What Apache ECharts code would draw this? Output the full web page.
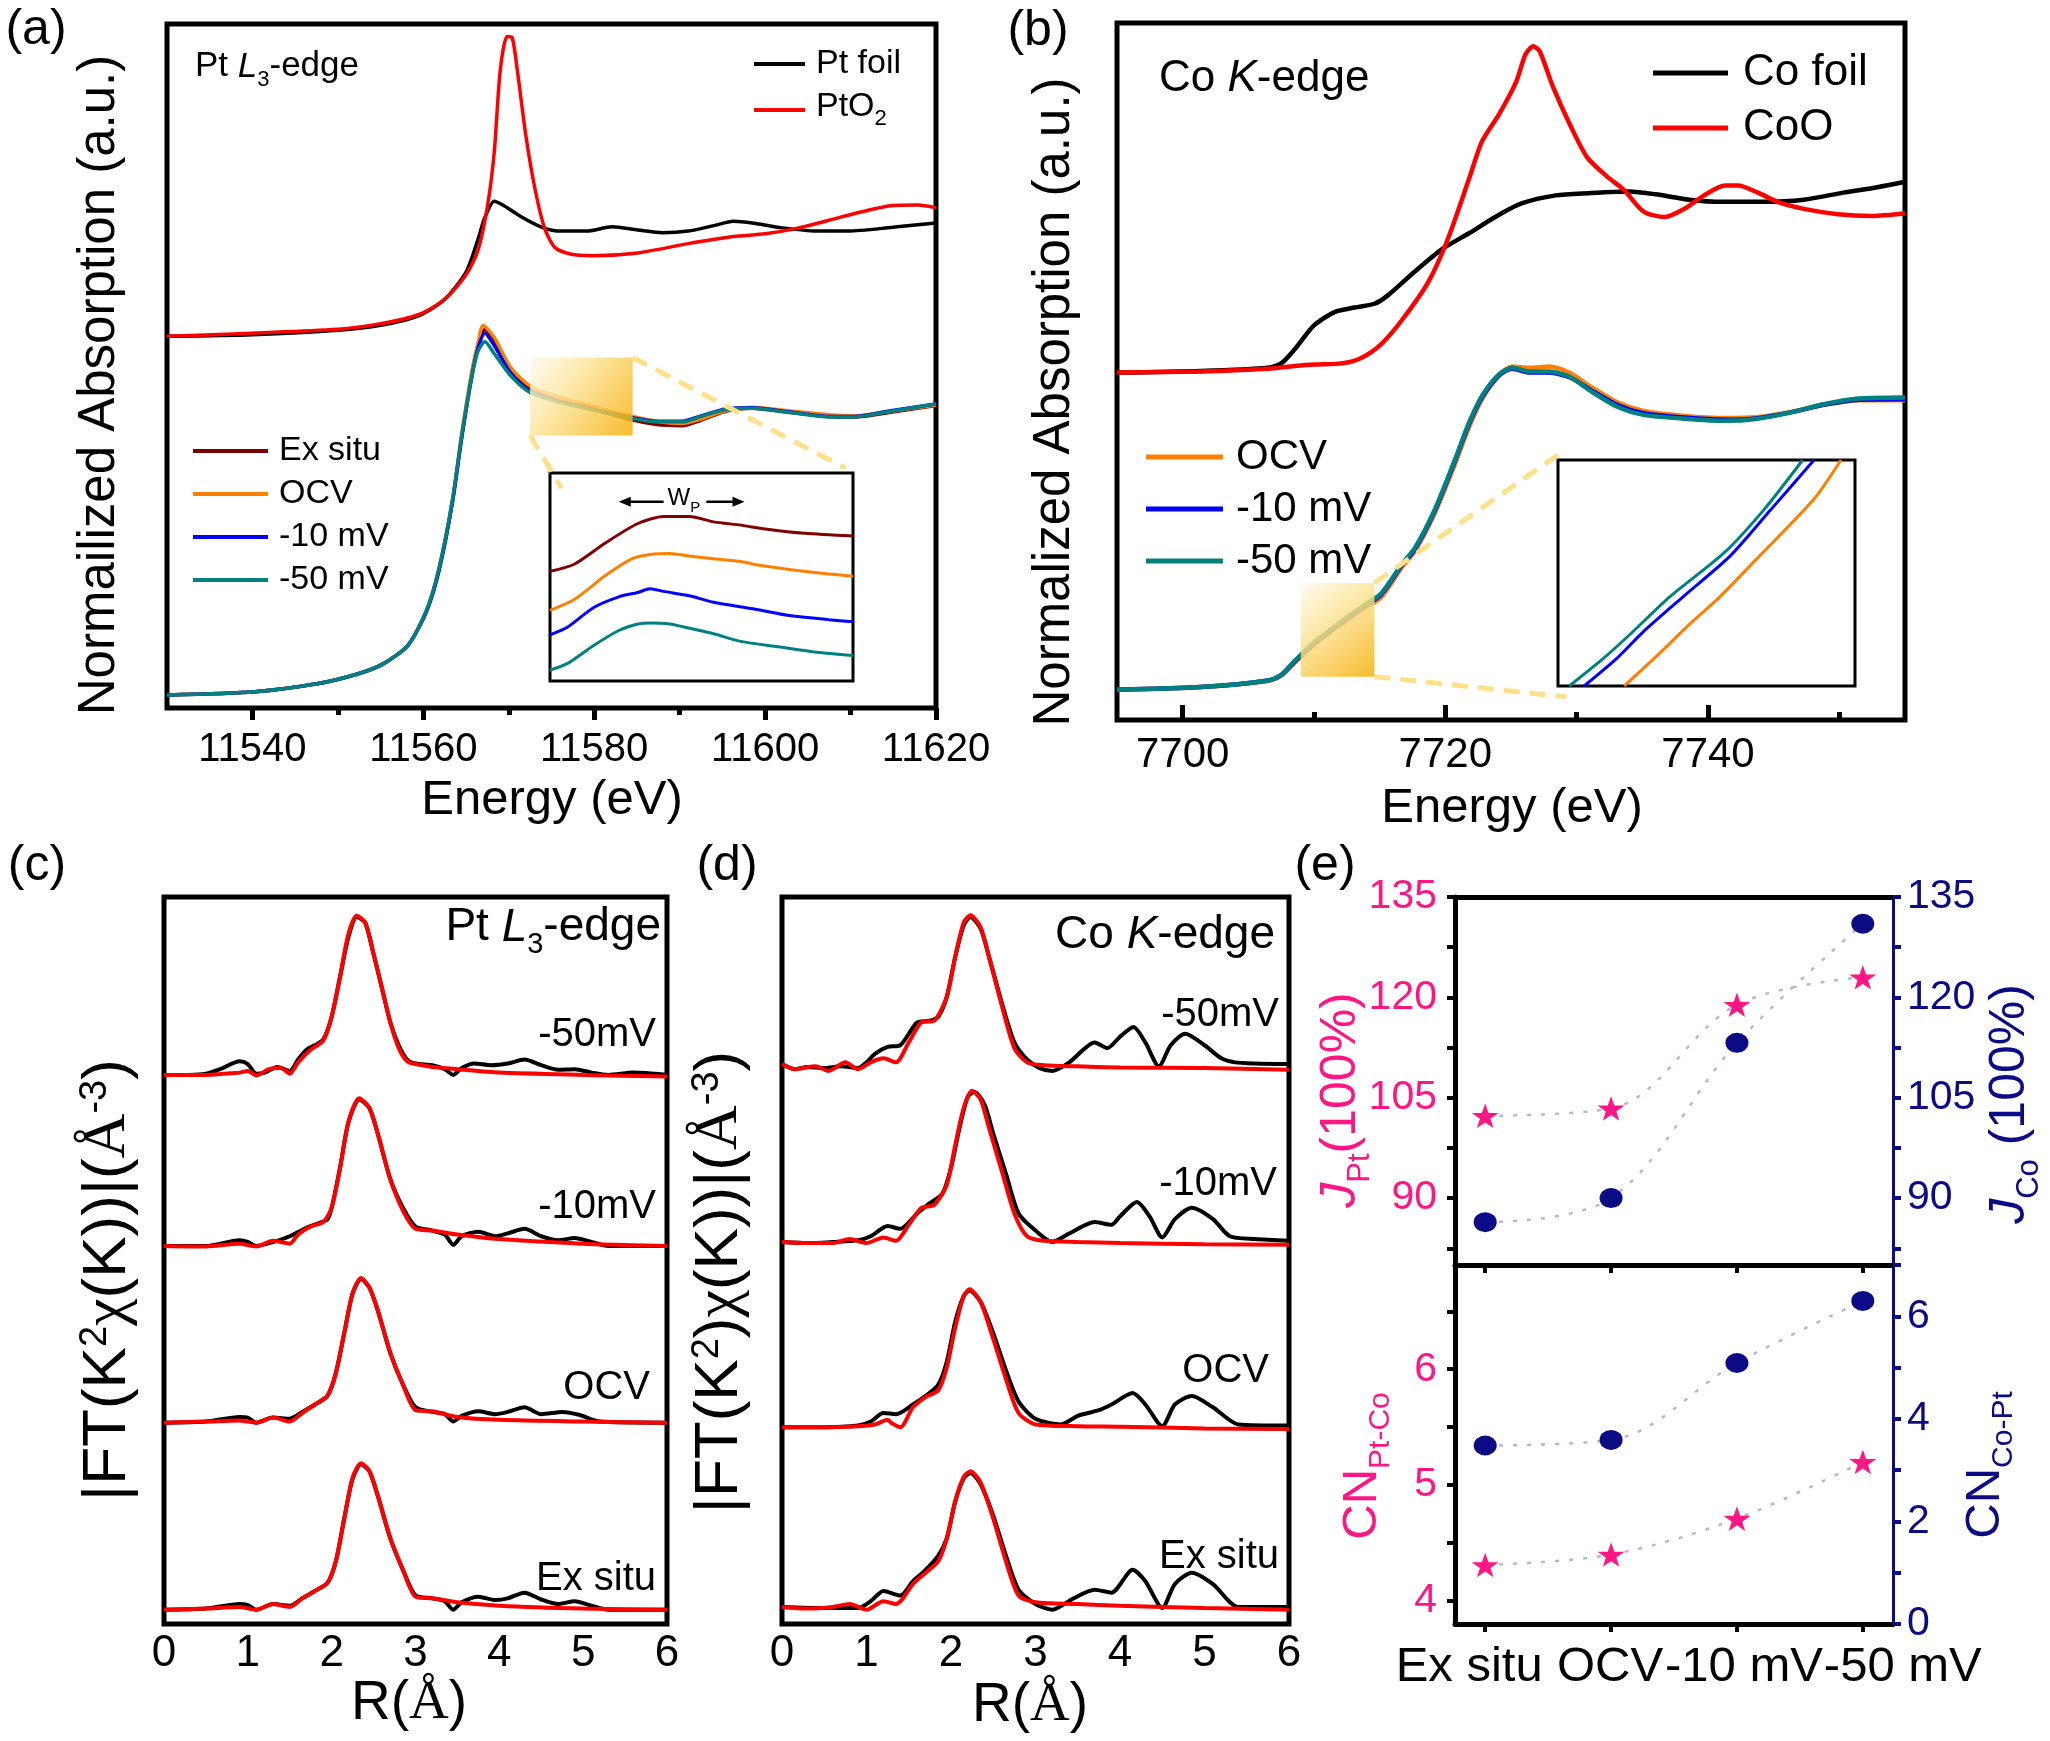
<!DOCTYPE html>
<html>
<head>
<meta charset="utf-8">
<script src="https://cdn.jsdelivr.net/npm/echarts@6/dist/echarts.min.js"></script>
<style>html,body{margin:0;padding:0;background:#fff}#main{width:2050px;height:1741px}</style>
</head>
<body>
<div id="main"></div>
<script>
// ---- (a) Pt L3-edge XANES ----
const aTickLabels = [11540, 11560, 11580, 11600, 11620];
const aMinorTicks = [11550, 11570, 11590, 11610];
const aPtFoil = [[11530,682],[11540,685],[11550,693],[11555,702],[11559.5,720],[11562.5,750],[11565,800],[11566.4,860],[11567.2,900],[11568.3,930],[11569.4,922],[11571.6,900],[11573.9,882],[11576.1,875],[11579.1,875],[11582.1,883],[11585.1,877],[11588,872],[11591,875],[11594,885],[11596.3,893],[11598.5,890],[11601.5,882],[11606,875],[11609.7,875],[11614.9,882],[11620,890]];
const aPtO2 = [[11530,682],[11550,695],[11555,705],[11559.5,722],[11562.5,750],[11565,795],[11566.4,840],[11567.5,920],[11568.3,1020],[11569,1170],[11569.8,1232],[11570.4,1230],[11571,1170],[11572,1050],[11573.1,950],[11574.2,880],[11575.4,845],[11577.2,833],[11579.8,830],[11585.1,835],[11591,852],[11596.3,865],[11600,870],[11603.7,880],[11607.5,895],[11611.2,910],[11614.9,922],[11617.9,923],[11620,918]];
const aExSitu = [[11530,24],[11540.3,30],[11547.7,45],[11552.2,62],[11555.2,80],[11558.2,115],[11560.4,180],[11561.9,260],[11563.4,380],[11564.5,500],[11565.7,615],[11566.4,665],[11567.2,695],[11568.3,672],[11570.2,620],[11572.4,588],[11575.4,568],[11579.1,552],[11583.6,532],[11587.3,520],[11590.3,518],[11592.5,528],[11595.5,545],[11598.5,550],[11603,542],[11607.5,535],[11610.4,534],[11614.9,543],[11620,555]];
const aOcv = [[11530,24],[11540.3,30],[11547.7,45],[11552.2,62],[11555.2,80],[11558.2,115],[11560.4,180],[11561.9,260],[11563.4,380],[11564.5,505],[11565.7,620],[11566.4,670],[11567,702],[11568.3,680],[11570.2,625],[11572.4,592],[11575.4,572],[11579.1,556],[11583.6,538],[11587.3,526],[11590.3,522],[11592.5,530],[11595.5,546],[11598.5,552],[11603,545],[11607.5,538],[11610.4,536],[11614.9,545],[11620,556]];
const aM10 = [[11530,24],[11540.3,30],[11547.7,45],[11552.2,62],[11555.2,80],[11558.2,115],[11560.4,178],[11561.9,256],[11563.4,376],[11564.5,496],[11565.7,610],[11566.4,660],[11567.2,688],[11568.3,665],[11570.2,615],[11572.4,582],[11575.4,565],[11579.1,551],[11583.6,535],[11587.3,526],[11590.3,526],[11592.5,536],[11595.5,549],[11598.5,551],[11603,543],[11607.5,535],[11610.4,535],[11614.9,546],[11620,558]];
const aM50 = [[11530,24],[11540.3,30],[11547.7,45],[11552.2,62],[11555.2,80],[11558.2,115],[11560.4,180],[11561.9,260],[11563.4,380],[11564.5,500],[11565.7,610],[11566.4,655],[11567.2,672],[11568.3,650],[11570.2,610],[11572.4,580],[11575.4,563],[11579.1,550],[11583.6,534],[11587.3,525],[11590.3,525],[11592.5,535],[11595.5,548],[11598.5,550],[11603,542],[11607.5,534],[11610.4,534],[11614.9,545],[11620,558]];
// inset of (a), offset curves
const aInsetEx = [[0,202],[8,215],[18.5,255],[29,290],[37.5,303],[46,303],[54,293],[63,287],[71,280],[84,272],[100,267]];
const aInsetOcv = [[0,130],[8,150],[18.5,195],[27,225],[33,233],[39.6,235],[46,230],[54,225],[63,220],[69,213],[79.6,205],[92,197],[100,193]];
const aInsetM10 = [[0,85],[6,100],[14.3,135],[22.7,155],[29,163],[33,170],[37.5,165],[46,157],[54,145],[67,133],[79.6,120],[92,113],[100,109]];
const aInsetM50 = [[0,20],[6,33],[14.3,65],[22.7,93],[29,105],[33,107],[39.6,105],[46,97],[54,87],[63,73],[75.4,63],[88,53],[100,47]];

// ---- (b) Co K-edge XANES ----
const bTickLabels = [7700, 7720, 7740];
const bMinorTicks = [7710, 7730, 7750];
const bCoFoil = [[7695,641],[7701.4,644],[7706.5,650],[7707.5,658],[7708.5,683],[7710,728],[7711.6,753],[7713.1,761],[7714.6,768],[7715.6,783],[7717.7,828],[7719.7,868],[7721.8,898],[7723.8,928],[7725.8,953],[7728.4,968],[7730.9,972],[7734,975],[7736,970],[7738.6,960],[7741.1,956],[7744.2,956],[7747.3,960],[7750.3,973],[7752.9,983],[7755,993]];
const bCoO = [[7695,641],[7701.4,643],[7706.5,648],[7708.5,653],[7710,656],[7712.1,658],[7713.6,668],[7715.1,693],[7716.7,738],[7718.7,808],[7720.2,888],[7721.8,998],[7722.8,1068],[7724.1,1118],[7725.4,1178],[7726.1,1228],[7726.7,1243],[7727.2,1233],[7728.2,1168],[7729.5,1098],[7730.8,1038],[7732.3,1003],[7733.6,978],[7735.1,938],[7736.7,928],[7738.2,943],[7739.7,968],[7741.3,986],[7742.3,986],[7743.8,973],[7745.3,956],[7747.3,943],[7749.9,933],[7752.5,930],[7755,935]];
const bOcv = [[7695,56],[7701.4,61],[7706.5,72],[7707.5,82],[7708.5,105],[7710,139],[7711.6,168],[7713.6,203],[7715.1,226],[7716.7,282],[7717.7,312],[7719.2,382],[7720.7,470],[7721.8,540],[7722.8,592],[7724.1,636],[7725.1,652],[7726.4,650],[7727.9,652],[7729.5,640],[7731,616],[7733.1,586],[7735.1,570],[7738.2,561],[7741.3,557],[7743.8,559],[7746.4,569],[7748.9,582],[7751.5,590],[7755,590]];
const bM10 = [[7695,56],[7701.4,61],[7706.5,73],[7707.5,83],[7708.5,107],[7710,141],[7711.6,171],[7713.6,206],[7715.1,231],[7716.7,286],[7717.7,316],[7719.2,386],[7720.7,476],[7721.8,546],[7722.8,596],[7724.1,636],[7725.1,648],[7726.4,641],[7727.9,641],[7729.5,632],[7731,610],[7733.1,581],[7735.1,566],[7738.2,558],[7741.3,554],[7743.8,557],[7746.4,568],[7748.9,582],[7751.5,591],[7755,592]];
const bM50 = [[7695,56],[7701.4,61],[7706.5,73],[7707.5,83],[7708.5,108],[7710,143],[7711.6,173],[7713.6,208],[7715.1,233],[7716.7,288],[7717.7,318],[7719.2,388],[7720.7,478],[7721.8,548],[7722.8,598],[7724.1,638],[7725.1,650],[7726.4,643],[7727.9,643],[7729.5,633],[7731,608],[7733.1,578],[7735.1,563],[7738.2,556],[7741.3,552],[7743.8,556],[7746.4,568],[7748.9,583],[7751.5,593],[7755,595]];
const bInsetOcv = [[22.3,0],[33.2,55],[44.5,115],[54.6,165],[67,235],[86.2,345],[95.3,417]];
const bInsetM10 = [[8.8,0],[19.6,50],[28.7,100],[42.2,165],[58,240],[71.6,325],[86.2,417]];
const bInsetM50 = [[3.8,0],[15.1,50],[24.2,95],[37.7,165],[55.8,245],[69.3,325],[82.4,417]];

// ---- (c) Pt L3-edge FT-EXAFS (data black, fit red) ----
const rTicks = [0, 1, 2, 3, 4, 5, 6];
const cM50Exp = [[0,963],[0.3,963],[0.5,965],[0.7,975],[0.9,987],[1,982],[1.1,965],[1.2,967],[1.35,977],[1.5,970],[1.6,990],[1.7,1007],[1.8,1015],[1.9,1025],[2,1065],[2.1,1135],[2.2,1205],[2.3,1240],[2.4,1230],[2.5,1175],[2.6,1115],[2.7,1055],[2.8,1015],[2.9,990],[3,983],[3.2,980],[3.35,973],[3.45,963],[3.55,975],[3.7,983],[3.9,980],[4.1,983],[4.3,990],[4.5,980],[4.7,972],[4.9,973],[5.1,967],[5.3,963],[5.6,967],[6,963]];
const cM50Fit = [[0,963],[0.5,963],[0.7,965],[0.9,967],[1,970],[1.1,962],[1.25,973],[1.4,975],[1.5,965],[1.6,985],[1.75,1007],[1.9,1023],[2,1065],[2.1,1135],[2.2,1210],[2.3,1242],[2.4,1230],[2.5,1175],[2.6,1115],[2.7,1055],[2.8,1010],[2.9,987],[3,982],[3.2,977],[3.5,973],[4,967],[5,963],[6,960]];
const cM10Exp = [[0,663],[0.5,663],[0.9,673],[1,670],[1.1,663],[1.3,670],[1.5,680],[1.7,695],[1.85,703],[1.95,710],[2,730],[2.1,800],[2.2,880],[2.33,920],[2.45,905],[2.55,860],[2.7,780],[2.85,730],[3,697],[3.2,690],[3.35,683],[3.45,665],[3.55,680],[3.75,688],[3.95,680],[4.1,685],[4.3,693],[4.5,680],[4.7,673],[4.9,677],[5.1,670],[5.3,663],[6,663]];
const cM10Fit = [[0,663],[0.5,662],[0.9,667],[1.1,662],[1.3,672],[1.5,667],[1.6,683],[1.75,697],[1.9,705],[2,730],[2.1,800],[2.2,880],[2.33,922],[2.45,905],[2.55,860],[2.7,780],[2.85,725],[3,693],[3.2,690],[3.5,683],[4,675],[5,667],[6,663]];
const cOcvExp = [[0,353],[0.5,355],[0.9,363],[1,362],[1.1,353],[1.3,362],[1.5,360],[1.65,372],[1.8,385],[1.95,400],[2.05,440],[2.15,510],[2.25,580],[2.35,605],[2.45,590],[2.55,550],[2.7,475],[2.85,420],[3,380],[3.2,372],[3.35,368],[3.45,355],[3.55,365],[3.75,373],[3.95,368],[4.1,372],[4.3,380],[4.5,368],[4.75,372],[4.95,367],[5.2,355],[6,353]];
const cOcvFit = [[0,353],[0.5,355],[0.9,357],[1.1,353],[1.3,362],[1.5,355],[1.65,370],[1.8,385],[1.95,400],[2.05,440],[2.15,510],[2.25,580],[2.35,607],[2.45,590],[2.55,550],[2.7,475],[2.85,420],[3,375],[3.2,373],[3.5,363],[4,358],[5,355],[6,353]];
const cExExp = [[0,25],[0.5,27],[0.9,35],[1,33],[1.1,25],[1.3,35],[1.5,32],[1.65,45],[1.8,58],[1.95,72],[2.05,110],[2.15,185],[2.25,255],[2.35,280],[2.45,268],[2.55,225],[2.7,150],[2.85,95],[3,50],[3.2,45],[3.35,40],[3.45,25],[3.55,38],[3.75,48],[3.95,42],[4.1,45],[4.3,55],[4.5,43],[4.7,35],[4.9,40],[5.1,32],[5.3,25],[6,25]];
const cExFit = [[0,25],[0.5,27],[0.9,30],[1.1,25],[1.3,35],[1.5,30],[1.65,45],[1.8,58],[1.95,72],[2.05,110],[2.15,185],[2.25,257],[2.35,282],[2.45,268],[2.55,225],[2.7,150],[2.85,95],[3,48],[3.2,45],[3.5,38],[4,32],[5,27],[6,25]];

// ---- (d) Co K-edge FT-EXAFS ----
const dM50Exp = [[0,982],[0.15,973],[0.3,977],[0.5,975],[0.7,978],[0.9,975],[1,985],[1.1,1000],[1.25,1012],[1.4,1015],[1.5,1035],[1.6,1055],[1.75,1058],[1.85,1065],[1.95,1100],[2.05,1170],[2.15,1225],[2.23,1240],[2.35,1220],[2.45,1170],[2.6,1090],[2.75,1020],[2.9,990],[3.05,975],[3.2,970],[3.4,985],[3.7,1020],[3.85,1010],[4,1030],[4.16,1047],[4.3,1020],[4.46,978],[4.6,1015],[4.77,1035],[5,1015],[5.2,992],[5.36,985],[5.6,983],[6,982]];
const dM50Fit = [[0,982],[0.15,973],[0.4,978],[0.55,970],[0.75,985],[0.9,973],[1.05,985],[1.2,992],[1.35,985],[1.5,1020],[1.65,1055],[1.8,1058],[1.95,1100],[2.05,1170],[2.15,1230],[2.23,1243],[2.35,1222],[2.45,1170],[2.6,1085],[2.75,1010],[2.9,985],[3.1,980],[3.5,978],[4,976],[5,975],[6,972]];
const dM10Exp = [[0,670],[0.3,668],[0.6,670],[0.9,673],[1.05,680],[1.25,698],[1.4,693],[1.6,720],[1.75,738],[1.9,755],[2,800],[2.1,870],[2.2,925],[2.28,933],[2.4,910],[2.5,860],[2.65,790],[2.8,720],[3,690],[3.2,670],[3.4,685],[3.7,705],[3.9,700],[4,715],[4.2,740],[4.35,715],[4.5,678],[4.65,710],[4.85,730],[5.1,710],[5.3,680],[5.6,675],[6,672]];
const dM10Fit = [[0,670],[0.3,668],[0.6,668],[0.8,675],[1,668],[1.2,678],[1.35,672],[1.5,700],[1.65,730],[1.8,735],[1.95,770],[2.05,840],[2.15,905],[2.25,935],[2.35,920],[2.45,870],[2.6,795],[2.75,720],[2.9,680],[3.1,672],[3.5,670],[4,668],[5,666],[6,665]];
const dOcvExp = [[0,345],[0.5,345],[0.9,348],[1.05,355],[1.2,370],[1.35,368],[1.55,385],[1.7,400],[1.85,420],[1.95,460],[2.05,530],[2.15,575],[2.22,585],[2.35,565],[2.5,510],[2.65,445],[2.8,390],[3,360],[3.3,350],[3.5,365],[3.75,375],[3.9,385],[4.15,405],[4.3,385],[4.5,347],[4.65,385],[4.85,400],[5.1,380],[5.4,350],[6,348]];
const dOcvFit = [[0,345],[0.5,345],[0.9,347],[1.1,350],[1.25,358],[1.3,352],[1.4,345],[1.55,380],[1.7,398],[1.85,410],[1.95,450],[2.05,520],[2.15,575],[2.22,587],[2.35,565],[2.5,500],[2.65,430],[2.8,370],[3,350],[3.5,347],[4,346],[5,343],[6,342]];
const dExExp = [[0,30],[0.5,28],[0.9,28],[1.05,40],[1.2,58],[1.4,50],[1.55,75],[1.7,95],[1.85,120],[1.95,150],[2.05,215],[2.15,255],[2.23,265],[2.35,245],[2.5,190],[2.65,120],[2.8,60],[3,35],[3.2,25],[3.45,45],[3.7,60],[3.9,55],[4.15,95],[4.3,75],[4.5,28],[4.65,70],[4.85,90],[5.1,70],[5.4,30],[6,30]];
const dExFit = [[0,30],[0.3,27],[0.6,30],[0.8,35],[1,25],[1.2,40],[1.35,35],[1.55,70],[1.7,90],[1.85,110],[1.95,150],[2.05,215],[2.15,258],[2.23,268],[2.35,248],[2.5,185],[2.65,110],[2.8,50],[3,38],[3.5,35],[4,32],[5,28],[6,25]];

// ---- (e) structural parameters ----
const eCats = ['Ex situ', 'OCV', '-10 mV', '-50 mV'];
const eX = [1, 2, 3, 4];
const jPt = [102.3, 103.4, 118.9, 123.0];
const jCo = [86.4, 90.0, 113.2, 131.0];
const cnPtCo = [4.31, 4.40, 4.71, 5.20];
const cnCoPt = [3.48, 3.59, 5.09, 6.30];
const eJTicks = [82.5, 90, 97.5, 105, 112.5, 120, 127.5, 135];
const eJLabels = [90, 105, 120, 135];
const eCnPtTicks = [4, 4.5, 5, 5.5, 6, 6.5];
const eCnPtLabels = [4, 5, 6];
const eCnCoTicks = [0, 1, 2, 3, 4, 5, 6, 7];
const eCnCoLabels = [0, 2, 4, 6];

// zoom windows marked in (a) and (b)
const aZoomWin = {x: [11572.5, 11584.5], y: [500, 643]};
const bZoomWin = {x: [7709.0, 7714.6], y: [80, 253]};

const FONT = '"Liberation Sans", Arial, sans-serif';
const SERIF = '"Liberation Serif", "Times New Roman", serif';
const PINK = '#ff1685';
const NAVY = '#0b0b86';
const COL = {ex: '#800000', ocv: '#ff8000', m10: '#0000ff', m50: '#008080'};

const chart = echarts.init(document.getElementById('main'), null, {renderer: 'canvas'});

function ln(name, data, color, xi, yi, w) {
    return {type: 'line', name: name, data: data, xAxisIndex: xi, yAxisIndex: yi,
        symbol: 'none', smooth: 0.25, lineStyle: {color: color, width: w},
        itemStyle: {color: color}, emphasis: {disabled: true}};
}
function hid(gi, min, max) {
    return {gridIndex: gi, type: 'value', min: min, max: max, show: false};
}
function tickAxis(gi, min, max, ticks, len, inside, labels, fs, margin) {
    return {gridIndex: gi, type: 'value', position: 'bottom', min: min, max: max,
        axisLine: {show: false}, splitLine: {show: false},
        axisTick: {show: true, inside: inside, length: len, customValues: ticks, lineStyle: {color: '#000', width: 5}},
        axisLabel: labels ? {customValues: labels, formatter: v => String(v), fontSize: fs, margin: margin,
            color: '#000', fontFamily: FONT, hideOverlap: false} : {show: false}};
}

const starPath = 'path://M50,0 L61.8,35.1 L98.1,35.1 L68.8,56.8 L79.4,91 L50,70 L20.6,91 L31.2,56.8 L1.9,35.1 L38.2,35.1 Z';

const gridBase = {outerBoundsMode: 'none', containLabel: false};
const grids = [
    {left: 167, top: 24, width: 769, height: 684, show: true, borderColor: '#000', borderWidth: 5},
    {left: 550, top: 473, width: 303, height: 208, show: true, borderColor: '#000', borderWidth: 3, backgroundColor: '#fff'},
    {left: 1117, top: 23, width: 788, height: 697, show: true, borderColor: '#000', borderWidth: 5},
    {left: 1558, top: 460, width: 297, height: 226, show: true, borderColor: '#000', borderWidth: 3, backgroundColor: '#fff'},
    {left: 164, top: 897, width: 503, height: 727, show: true, borderColor: '#000', borderWidth: 5},
    {left: 782, top: 897, width: 507, height: 727, show: true, borderColor: '#000', borderWidth: 5},
    {left: 1455, top: 897, width: 438, height: 368},
    {left: 1455, top: 1265, width: 438, height: 359}
].map(gr => Object.assign({}, gridBase, gr));

function rAxis(gi) {
    return {gridIndex: gi, type: 'value', position: 'bottom', min: 0, max: 6, axisLine: {show: false},
        axisTick: {show: false}, splitLine: {show: false},
        axisLabel: {customValues: rTicks, fontSize: 44, margin: 8, color: '#000', fontFamily: FONT, hideOverlap: false}};
}
// category names of (e): split over two axes so that touching labels are all kept;
// the original figure sets them slightly off their ticks, which the paddings reproduce
const eCatRich = {};
[[0, 32], [0, 2], [14, 0], [80, 0]].forEach((p, i) => {
    eCatRich['c' + i] = {fontSize: 49, fontFamily: FONT, color: '#000', padding: [0, p[1], 0, p[0]]};
});
function eCatAxis(vals, line) {
    return {gridIndex: 7, type: 'value', position: 'bottom', min: 0.76, max: 4.24, splitLine: {show: false},
        axisLine: {show: line, onZero: false, lineStyle: {color: '#000', width: 5}},
        axisTick: {show: line, customValues: eX, length: 8, lineStyle: {color: '#000', width: 4}},
        axisLabel: {customValues: vals, formatter: v => {
                const i = Math.round(v) - 1;
                return '{c' + i + '|' + eCats[i] + '}';
            }, rich: eCatRich, fontSize: 49,
            margin: 19, color: '#000', fontFamily: FONT, hideOverlap: false, showMinLabel: true, showMaxLabel: true}};
}

const xAxes = [
    tickAxis(0, 11530, 11620, aMinorTicks, 7, false, null),                    // 0
    tickAxis(0, 11530, 11620, aTickLabels, 12, false, aTickLabels, 40, 22),    // 1
    hid(1, 0, 100),                                                          // 2
    tickAxis(2, 7695, 7755, bMinorTicks, 8, true, null),                      // 3
    tickAxis(2, 7695, 7755, bTickLabels, 15, true, bTickLabels, 42, 14),      // 4
    hid(3, 0, 100),                                                          // 5
    rAxis(4),                                                                // 6
    rAxis(5),                                                                // 7
    {gridIndex: 6, type: 'value', position: 'bottom', min: 0.76, max: 4.24, splitLine: {show: false},   // 8
        axisLine: {show: true, onZero: false, lineStyle: {color: '#000', width: 5}},
        axisTick: {show: true, customValues: eX, length: 8, lineStyle: {color: '#000', width: 4}},
        axisLabel: {show: false}},
    {gridIndex: 6, type: 'value', position: 'top', min: 0.76, max: 4.24, splitLine: {show: false},      // 9
        axisLine: {show: true, onZero: false, lineStyle: {color: '#000', width: 5}},
        axisTick: {show: false}, axisLabel: {show: false}},
    eCatAxis([1, 3], true),                                                  // 10
    eCatAxis([2, 4], false)                                                  // 11
];

function eY(gi, pos, min, max, ticks, labels, color, lw, margin) {
    const lc = color === PINK ? '#000' : color;
    return {gridIndex: gi, type: 'value', position: pos, min: min, max: max, splitLine: {show: false},
        axisLine: {show: true, onZero: false, lineStyle: {color: lc, width: lw}},
        axisTick: {show: true, customValues: ticks, length: 8, lineStyle: {color: lc, width: 4}},
        axisLabel: {customValues: labels, color: color, fontSize: 41, margin: margin, fontFamily: FONT,
            hideOverlap: false, showMinLabel: true, showMaxLabel: true}};
}

const yAxes = [
    hid(0, 0, 1255),   // 0
    hid(1, 0, 383),    // 1
    hid(2, 0, 1286),   // 2
    hid(3, 0, 417),    // 3
    hid(4, 0, 1275),   // 4
    hid(5, 0, 1275),   // 5
    eY(6, 'left', 80, 135, eJTicks, eJLabels, PINK, 5, 18),          // 6
    eY(6, 'right', 80, 135, eJTicks, eJLabels, NAVY, 3, 14),         // 7
    eY(7, 'left', 3.8, 6.9, eCnPtTicks, eCnPtLabels, PINK, 5, 18),   // 8
    eY(7, 'right', 0, 7, eCnCoTicks, eCnCoLabels, NAVY, 3, 14)       // 9
];

function pts(ys) { return eX.map((x, i) => [x, ys[i]]); }
function dots(name, ys, xi, yi, shape) {
    const star = shape === 'star';
    return {type: 'line', name: name, data: pts(ys), xAxisIndex: xi, yAxisIndex: yi, smooth: 0.35,
        symbol: star ? starPath : 'circle', symbolKeepAspect: star, symbolSize: star ? [27, 26] : [23, 20],
        showSymbol: true, lineStyle: {color: '#b4b8d8', width: 2.5, type: [4, 10]},
        itemStyle: {color: star ? PINK : NAVY}, emphasis: {disabled: true}, z: 5};
}

const series = [
    ln('Pt foil', aPtFoil, '#000', 0, 0, 3.5),
    ln('PtO2', aPtO2, '#ff0000', 0, 0, 3.5),
    ln('Ex situ', aExSitu, COL.ex, 0, 0, 3.5),
    ln('OCV', aOcv, COL.ocv, 0, 0, 3.5),
    ln('-10 mV', aM10, COL.m10, 0, 0, 3.5),
    ln('-50 mV', aM50, COL.m50, 0, 0, 3.5),
    ln('ia-ex', aInsetEx, COL.ex, 2, 1, 3),
    ln('ia-ocv', aInsetOcv, COL.ocv, 2, 1, 3),
    ln('ia-m10', aInsetM10, COL.m10, 2, 1, 3),
    ln('ia-m50', aInsetM50, COL.m50, 2, 1, 3),
    ln('Co foil', bCoFoil, '#000', 3, 2, 4.5),
    ln('CoO', bCoO, '#ff0000', 3, 2, 4.5),
    ln('OCV', bOcv, COL.ocv, 3, 2, 4.5),
    ln('-10 mV', bM10, COL.m10, 3, 2, 4.5),
    ln('-50 mV', bM50, COL.m50, 3, 2, 4.5),
    ln('ib-ocv', bInsetOcv, COL.ocv, 5, 3, 3),
    ln('ib-m10', bInsetM10, COL.m10, 5, 3, 3),
    ln('ib-m50', bInsetM50, COL.m50, 5, 3, 3),
    ln('c-m50', cM50Exp, '#000', 6, 4, 4), ln('c-m50f', cM50Fit, '#ff0000', 6, 4, 4),
    ln('c-m10', cM10Exp, '#000', 6, 4, 4), ln('c-m10f', cM10Fit, '#ff0000', 6, 4, 4),
    ln('c-ocv', cOcvExp, '#000', 6, 4, 4), ln('c-ocvf', cOcvFit, '#ff0000', 6, 4, 4),
    ln('c-ex', cExExp, '#000', 6, 4, 4), ln('c-exf', cExFit, '#ff0000', 6, 4, 4),
    ln('d-m50', dM50Exp, '#000', 7, 5, 4), ln('d-m50f', dM50Fit, '#ff0000', 7, 5, 4),
    ln('d-m10', dM10Exp, '#000', 7, 5, 4), ln('d-m10f', dM10Fit, '#ff0000', 7, 5, 4),
    ln('d-ocv', dOcvExp, '#000', 7, 5, 4), ln('d-ocvf', dOcvFit, '#ff0000', 7, 5, 4),
    ln('d-ex', dExExp, '#000', 7, 5, 4), ln('d-exf', dExFit, '#ff0000', 7, 5, 4),
    dots('J_Pt', jPt, 8, 6, 'star'),
    dots('J_Co', jCo, 8, 7, 'circle'),
    dots('CN_PtCo', cnPtCo, 10, 8, 'star'),
    dots('CN_CoPt', cnCoPt, 10, 9, 'circle')
];

function leg(names, left, top, w, h, gap, fs, pad) {
    return {data: names, orient: 'vertical', left: left, top: top, itemWidth: w, itemHeight: h, itemGap: gap,
        icon: 'rect', selectedMode: false, padding: 0,
        formatter: n => n === 'PtO2' ? '{n|PtO}{s|2}' : '{n|' + n + '}',
        textStyle: {fontSize: fs, fontFamily: FONT, color: '#000', padding: [0, 0, 0, pad],
            rich: {n: {fontSize: fs, fontFamily: FONT, color: '#000', verticalAlign: 'top'},
                   s: {fontSize: 22, fontFamily: FONT, color: '#000', verticalAlign: 'bottom', padding: [18, 0, 0, 0]}}}};
}

const option = {
    animation: false,
    backgroundColor: '#fff',
    grid: grids,
    xAxis: xAxes,
    yAxis: yAxes,
    legend: [
        leg(['Pt foil', 'PtO2'], 754, 47, 51, 4, 9, 34, 6),
        leg(['Ex situ', 'OCV', '-10 mV', '-50 mV'], 193, 434, 75, 4, 9, 34, 6),
        leg(['Co foil', 'CoO'], 1653, 51, 75, 5, 11, 44, 10),
        leg(['OCV', '-10 mV', '-50 mV'], 1146, 436, 77, 5, 10, 42, 8)
    ],
    series: series
};
chart.setOption(option);

// ---- decorations: texts, zoom windows, connectors ----
function px(xi, yi, p) { return chart.convertToPixel({xAxisIndex: xi, yAxisIndex: yi}, p); }
function richSet(F, sh, color) {
    const drop = 0.24 * F;
    const rise = 0.42 * F;
    return {
        n: {fontSize: F, fontFamily: FONT, fill: color, verticalAlign: 'bottom'},
        t: {fontSize: F, fontFamily: FONT, fill: color, verticalAlign: 'top'},
        i: {fontSize: F, fontFamily: FONT, fontStyle: 'italic', fill: color, verticalAlign: 'top'},
        s: {fontSize: sh, fontFamily: FONT, fill: color, verticalAlign: 'bottom', padding: [drop + 0.85 * (F - sh), 0, 0, 0]},
        c: {fontSize: F, fontFamily: SERIF, fill: color, verticalAlign: 'bottom'},
        a: {fontSize: F, fontFamily: SERIF, fill: color, verticalAlign: 'bottom'},
        p: {fontSize: sh, fontFamily: FONT, fill: color, verticalAlign: 'top', padding: [0, 0, rise + 0.15 * F + 0.85 * sh - F, 0]}
    };
}
function T(x, y, text, F, opt) {
    opt = opt || {};
    const color = opt.color || '#000';
    return {type: 'text', x: x, y: y, rotation: opt.rot ? Math.PI / 2 : 0, z: 200, silent: true,
        style: {text: text, fontSize: F, fontFamily: FONT, fill: color,
            align: opt.align || 'center', verticalAlign: 'middle',
            rich: richSet(F, opt.sh || Math.round(F * 0.62), color)}};
}

const g = [];
// panel letters
[['(a)', 36, 30], ['(b)', 1038, 31], ['(c)', 37, 866], ['(d)', 727, 866], ['(e)', 1325, 866]]
    .forEach(d => g.push(T(d[1], d[2], d[0], 50)));
// axis titles
g.push(T(100, 385, 'Normailized Absorption (a.u.)', 51, {rot: true}));
g.push(T(552, 800, 'Energy (eV)', 49));
g.push(T(1055, 402, 'Normalized Absorption (a.u.)', 51, {rot: true}));
g.push(T(1512, 808, 'Energy (eV)', 49));
g.push(T(108, 1280, '{n||FT(K}{p|2}{c|χ}{n|(K))|(}{a|Å}{p|-3}{n|)}', 62, {rot: true, sh: 38}));
g.push(T(720, 1282, '{n||FT(K}{p|2}{n|)}{c|χ}{n|(K))|(}{a|Å}{p|-3}{n|)}', 62, {rot: true, sh: 38}));
g.push(T(409, 1704, '{n|R(}{a|Å}{n|)}', 55));
g.push(T(1030, 1706, '{n|R(}{a|Å}{n|)}', 55));
g.push(T(1346, 1100, '{i|J}{s|Pt}{t|(100%)}', 50, {rot: true, sh: 31, color: PINK}));
g.push(T(2015, 1104, '{i|J}{s|Co}{t| (100%)}', 50, {rot: true, sh: 31, color: NAVY}));
g.push(T(1367, 1466, '{t|CN}{s|Pt-Co}', 49, {rot: true, sh: 30, color: PINK}));
g.push(T(1990, 1465, '{t|CN}{s|Co-Pt}', 49, {rot: true, sh: 30, color: NAVY}));
// in-plot labels
g.push(T(195, 70, '{t|Pt }{i|L}{s|3}{t|-edge}', 35, {align: 'left', sh: 22}));
g.push(T(1159, 79, '{t|Co }{i|K}{t|-edge}', 44, {align: 'left'}));
g.push(T(661, 932, '{t|Pt }{i|L}{s|3}{t|-edge}', 46, {align: 'right', sh: 29}));
[['-50mV', 656, 1035], ['-10mV', 656, 1207], ['OCV', 650, 1388], ['Ex situ', 656, 1579]]
    .forEach(d => g.push(T(d[1], d[2], d[0], 40, {align: 'right'})));
g.push(T(1275, 935, '{t|Co }{i|K}{t|-edge}', 46, {align: 'right'}));
[['-50mV', 1279, 1015], ['-10mV', 1277, 1184], ['OCV', 1269, 1371], ['Ex situ', 1279, 1557]]
    .forEach(d => g.push(T(d[1], d[2], d[0], 40, {align: 'right'})));

// highlighted windows with gradient and dashed connectors
function zoomRect(xi, yi, win) {
    const p0 = px(xi, yi, [win.x[0], win.y[1]]);
    const p1 = px(xi, yi, [win.x[1], win.y[0]]);
    g.push({type: 'rect', z: 150, silent: true,
        shape: {x: p0[0], y: p0[1], width: p1[0] - p0[0], height: p1[1] - p0[1]},
        style: {opacity: 0.82, fill: new echarts.graphic.LinearGradient(0, 0, 1, 1, [
            {offset: 0, color: '#fffaf0'}, {offset: 0.35, color: '#fde7a0'}, {offset: 1, color: '#f5ad00'}])}});
    return {tl: p0, br: p1, tr: [p1[0], p0[1]], bl: [p0[0], p1[1]]};
}
function dash(a, b) {
    g.push({type: 'line', z: 160, silent: true, shape: {x1: a[0], y1: a[1], x2: b[0], y2: b[1]},
        style: {stroke: '#ffe08a', lineWidth: 5, lineDash: [16, 10]}});
}
const ra = zoomRect(1, 0, aZoomWin);
dash(ra.tr, px(2, 1, [97.5, 392]));
dash(ra.bl, px(2, 1, [3.8, 355]));
const rb = zoomRect(4, 2, bZoomWin);
dash(rb.tr, px(5, 3, [2.7, 437]));
dash(rb.br, px(5, 3, [2.7, -20]));

// W_P marker in inset (a)
function arrow(a, b) {
    const dx = b[0] - a[0], dy = b[1] - a[1], L = Math.hypot(dx, dy), ux = dx / L, uy = dy / L;
    g.push({type: 'line', z: 210, silent: true, shape: {x1: a[0], y1: a[1], x2: b[0] - ux * 8, y2: b[1] - uy * 8},
        style: {stroke: '#000', lineWidth: 2.5}});
    g.push({type: 'polygon', z: 210, silent: true,
        shape: {points: [b, [b[0] - ux * 12 - uy * 5, b[1] - uy * 12 + ux * 5], [b[0] - ux * 12 + uy * 5, b[1] - uy * 12 - ux * 5]]},
        style: {fill: '#000'}});
}
arrow(px(2, 1, [37.5, 330]), px(2, 1, [22.7, 330]));
arrow(px(2, 1, [51.6, 330]), px(2, 1, [64.2, 330]));
const wp = px(2, 1, [44.2, 332]);
g.push(T(wp[0], wp[1], '{t|W}{s|P}', 24, {sh: 15}));

chart.setOption({graphic: g});
</script>
</body>
</html>
